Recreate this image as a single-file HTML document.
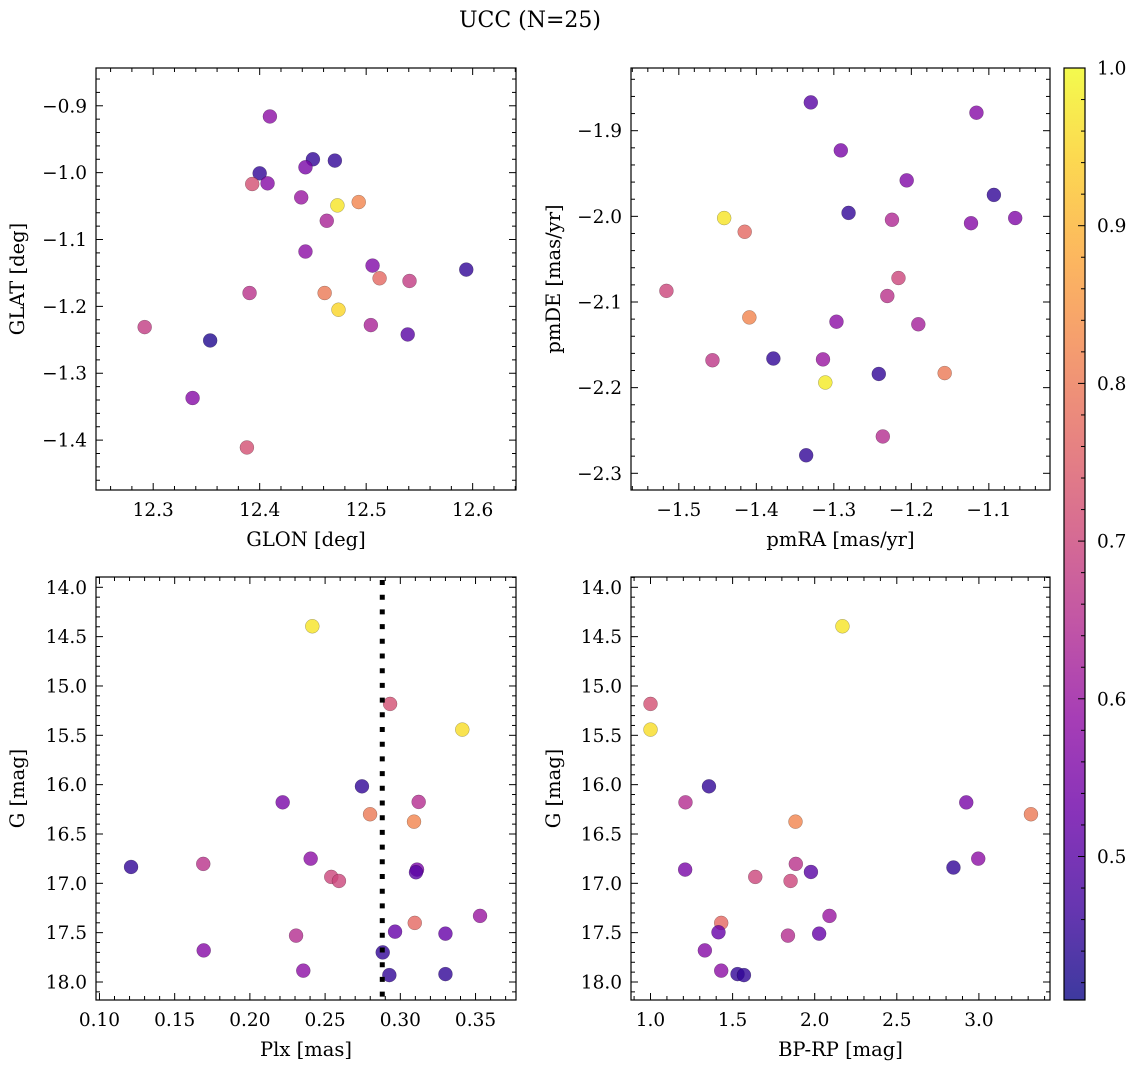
<!DOCTYPE html>
<html><head><meta charset="utf-8"><style>
html,body{margin:0;padding:0;background:#fff;}
svg{display:block;font-family:"DejaVu Serif","Liberation Serif",serif;}
</style></head><body>
<svg id="fig" width="1136" height="1067" viewBox="0 0 1136 1067" xmlns="http://www.w3.org/2000/svg">
<defs>
<linearGradient id="plasma" x1="0" y1="1" x2="0" y2="0"></linearGradient>
</defs>
<text x="530" y="27" font-size="22" text-anchor="middle">UCC (N=25)</text>
</svg>
<script>
// ---- Panel 1: GLON vs GLAT ----
const p1Glon = [12.4096,12.450,12.4706,12.443,12.400,12.393,12.4074,12.439,12.473,12.493,12.463,12.443,12.506,12.5126,12.5407,12.594,12.3905,12.461,12.474,12.292,12.3535,12.5044,12.539,12.337,12.388];
const p1Glat = [-0.916,-0.980,-0.982,-0.992,-1.001,-1.017,-1.016,-1.037,-1.049,-1.044,-1.072,-1.118,-1.139,-1.158,-1.162,-1.145,-1.180,-1.180,-1.205,-1.231,-1.251,-1.228,-1.242,-1.337,-1.411];
const p1Prob = [0.58,0.45,0.45,0.55,0.45,0.72,0.57,0.60,0.97,0.82,0.63,0.58,0.56,0.77,0.68,0.45,0.66,0.80,0.95,0.68,0.43,0.63,0.50,0.57,0.72];
// ---- Panel 2: pmRA vs pmDE ----
const p2PmRA = [-1.3297,-1.116,-1.291,-1.206,-1.0935,-1.281,-1.225,-1.123,-1.066,-1.4415,-1.415,-1.516,-1.2166,-1.231,-1.409,-1.2966,-1.191,-1.4566,-1.378,-1.314,-1.242,-1.157,-1.311,-1.2368,-1.3357];
const p2PmDE = [-1.867,-1.879,-1.923,-1.958,-1.975,-1.996,-2.004,-2.008,-2.002,-2.002,-2.018,-2.087,-2.072,-2.093,-2.118,-2.123,-2.126,-2.168,-2.166,-2.167,-2.184,-2.183,-2.194,-2.257,-2.279];
const p2Prob = [0.50,0.57,0.55,0.56,0.45,0.45,0.64,0.57,0.56,0.97,0.77,0.70,0.70,0.66,0.82,0.58,0.62,0.67,0.45,0.60,0.45,0.80,0.98,0.65,0.45];
// ---- Panel 3: Plx vs G ----
const p3Plx = [0.2415,0.2932,0.3412,0.2745,0.2218,0.3122,0.2799,0.3091,0.121,0.169,0.2404,0.2541,0.2592,0.3111,0.3104,0.353,0.3096,0.2965,0.330,0.2307,0.1693,0.2883,0.2355,0.2927,0.330];
const p3G = [14.395,15.182,15.442,16.017,16.179,16.175,16.30,16.375,16.834,16.803,16.75,16.935,16.976,16.861,16.888,17.33,17.401,17.49,17.51,17.53,17.68,17.70,17.885,17.93,17.92];
const p3Prob = [0.97,0.72,0.96,0.45,0.55,0.65,0.80,0.82,0.45,0.66,0.58,0.70,0.70,0.55,0.50,0.60,0.77,0.52,0.52,0.65,0.57,0.45,0.58,0.45,0.45];
const plxLine = [0.288];
// ---- Panel 4: BP-RP vs G ----
const p4BpRp = [2.169,1.0,1.0,1.356,1.213,2.923,3.317,1.883,2.845,2.996,1.211,1.885,1.977,1.638,1.853,2.090,1.4306,1.414,2.027,1.837,1.331,1.4306,1.530,1.569];
const p4G = [14.395,15.182,15.442,16.017,16.179,16.18,16.30,16.375,16.84,16.75,16.861,16.803,16.885,16.935,16.976,17.33,17.401,17.496,17.51,17.53,17.68,17.885,17.92,17.93];
const p4Prob = [0.97,0.72,0.96,0.45,0.65,0.55,0.80,0.82,0.45,0.58,0.55,0.66,0.50,0.70,0.70,0.60,0.77,0.52,0.52,0.65,0.57,0.58,0.45,0.45];
// ---- Tick labels ----
const p1XTicks = [12.3,12.4,12.5,12.6];
const p1YTicks = [-0.9,-1.0,-1.1,-1.2,-1.3,-1.4];
const p2XTicks = [-1.5,-1.4,-1.3,-1.2,-1.1];
const p2YTicks = [-1.9,-2.0,-2.1,-2.2,-2.3];
const p3XTicks = [0.10,0.15,0.20,0.25,0.30,0.35];
const gTicks = [14.0,14.5,15.0,15.5,16.0,16.5,17.0,17.5,18.0];
const p4XTicks = [1.0,1.5,2.0,2.5,3.0];
const cbTicks = [0.5,0.6,0.7,0.8,0.9,1.0];
const cbMin = 0.409, cbMax = 1.0;

const NS = "http://www.w3.org/2000/svg";
const svg = document.getElementById('fig');
const TICK_FS = 18.5, LABEL_FS = 19.5;
function mk(tag, attrs, parent){const e=document.createElementNS(NS,tag);for(const k in attrs)e.setAttribute(k,attrs[k]);(parent||svg).appendChild(e);return e;}
const plasmaStops=[[13,8,135],[65,4,157],[106,0,168],[143,13,164],[177,42,144],[204,71,120],[225,100,98],[242,132,75],[252,166,54],[252,206,37],[240,249,33]];
function plasma(t){t=Math.max(0,Math.min(1,t));const f=t*10;const i=Math.min(9,Math.floor(f));const r=f-i;const a=plasmaStops[i],b=plasmaStops[i+1];return 'rgb('+a.map((v,k)=>Math.round(v+(b[k]-v)*r)).join(',')+')';}
function probColor(p){return plasma((p-cbMin)/(cbMax-cbMin));}
function fmt(v,d){return (v<0?'\u2212':'')+Math.abs(v).toFixed(d);}

function panel(cfg){
  const {name,L,T,R,B,xmin,xmax,ymin,ymax,xTicks,yTicks,xMinor,yMinor,xd,yd,xlabel,ylabel,ylabelX,xs,ys,ps,yInvert}=cfg;
  const sx=v=>L+(v-xmin)/(xmax-xmin)*(R-L);
  const sy=yInvert? (v=>T+(v-ymin)/(ymax-ymin)*(B-T)) : (v=>B-(v-ymin)/(ymax-ymin)*(B-T));
  const g=mk('g',{});
  
  
  const clipId=name+'-clip';
  const cp=mk('clipPath',{id:clipId},g);mk('rect',{x:L,y:T,width:R-L,height:B-T},cp);
  const pts=mk('g',{'clip-path':'url(#'+clipId+')'},g);
  for(let i=0;i<xs.length;i++){
    const c=mk('circle',{cx:sx(xs[i]),cy:sy(ys[i]),r:7,fill:probColor(ps[i]),'fill-opacity':0.8,stroke:'rgba(0,0,0,0.35)','stroke-width':0.5},pts);
    
    
  }
  cfg.sx=sx;cfg.sy=sy;cfg.g=g;cfg.pts=pts;
  const tk=mk('g',{stroke:'#000','stroke-width':1},g);
  const lo=Math.min(xmin,xmax),hi=Math.max(xmin,xmax);
  for(let v=Math.ceil(lo/xMinor-1e-6)*xMinor;v<=hi+1e-9;v+=xMinor){
    const x=sx(v);const major=xTicks.some(t=>Math.abs(t-v)<xMinor/10);const len=major?7:4;
    mk('line',{x1:x,y1:B,x2:x,y2:B-len},tk);mk('line',{x1:x,y1:T,x2:x,y2:T+len},tk);
  }
  const ylo=Math.min(ymin,ymax),yhi=Math.max(ymin,ymax);
  for(let v=Math.ceil(ylo/yMinor-1e-6)*yMinor;v<=yhi+1e-9;v+=yMinor){
    const y=sy(v);const major=yTicks.some(t=>Math.abs(t-v)<yMinor/10);const len=major?7:4;
    mk('line',{x1:L,y1:y,x2:L+len,y2:y},tk);mk('line',{x1:R,y1:y,x2:R-len,y2:y},tk);
  }
  mk('rect',{x:L,y:T,width:R-L,height:B-T,fill:'none',stroke:'#000','stroke-width':1.2},g);
  xTicks.forEach(v=>{const t=mk('text',{x:sx(v),y:B+26,'font-size':TICK_FS,'text-anchor':'middle'},g);t.textContent=fmt(v,xd);
    
    });
  yTicks.forEach(v=>{const t=mk('text',{x:L-9,y:sy(v)+6.5,'font-size':TICK_FS,'text-anchor':'end'},g);t.textContent=fmt(v,yd);
    
    });
  const xl=mk('text',{x:(L+R)/2,y:B+56,'font-size':LABEL_FS,'text-anchor':'middle'},g);xl.textContent=xlabel;
  
  
  const yl=mk('text',{x:ylabelX,y:(T+B)/2,'font-size':LABEL_FS,'text-anchor':'middle',transform:'rotate(-90 '+ylabelX+' '+((T+B)/2)+')'},g);yl.textContent=ylabel;
  
  
  return cfg;
}

panel({name:'glon-glat-panel',L:96,T:68,R:516,B:490,xmin:12.2463,xmax:12.6407,ymin:-1.4746,ymax:-0.8435,xTicks:p1XTicks,yTicks:p1YTicks,xMinor:0.02,yMinor:0.02,xd:1,yd:1,xlabel:'GLON [deg]',ylabel:'GLAT [deg]',ylabelX:24,xs:p1Glon,ys:p1Glat,ps:p1Prob});
panel({name:'pm-panel',L:631,T:68,R:1050,B:490,xmin:-1.5617,xmax:-1.0211,ymin:-2.3195,ymax:-1.8268,xTicks:p2XTicks,yTicks:p2YTicks,xMinor:0.02,yMinor:0.02,xd:1,yd:1,xlabel:'pmRA [mas/yr]',ylabel:'pmDE [mas/yr]',ylabelX:560,xs:p2PmRA,ys:p2PmDE,ps:p2Prob});
const p3=panel({name:'plx-g-panel',L:96,T:577,R:516,B:1000,xmin:0.0977,xmax:0.3769,ymin:13.8956,ymax:18.1824,xTicks:p3XTicks,yTicks:gTicks,xMinor:0.01,yMinor:0.1,xd:2,yd:1,xlabel:'Plx [mas]',ylabel:'G [mag]',ylabelX:24,xs:p3Plx,ys:p3G,ps:p3Prob,yInvert:true});
panel({name:'cmd-panel',L:631,T:577,R:1050,B:1000,xmin:0.8812,xmax:3.4330,ymin:13.8956,ymax:18.1824,xTicks:p4XTicks,yTicks:gTicks,xMinor:0.1,yMinor:0.1,xd:1,yd:1,xlabel:'BP-RP [mag]',ylabel:'G [mag]',ylabelX:560,xs:p4BpRp,ys:p4G,ps:p4Prob,yInvert:true});

plxLine.forEach(v=>{const x=p3.sx(v);
  const ln=mk('line',{x1:x,y1:580,x2:x,y2:1000,stroke:'#000','stroke-width':5,'stroke-dasharray':'5 9.7'},p3.pts);
  
  
});

const grad=document.getElementById('plasma');
for(let i=0;i<=10;i++){const t=i/10;const p=cbMin+t*(cbMax-cbMin);mk('stop',{offset:t,'stop-color':probColor(p),'stop-opacity':0.8},grad);}
const cb=mk('g',{});


const CL=1064,CR=1085,CT=68,CB=1000;
mk('rect',{x:CL,y:CT,width:CR-CL,height:CB-CT,fill:'url(#plasma)'},cb);
const csy=v=>CB-(v-cbMin)/(cbMax-cbMin)*(CB-CT);
for(let v=0.42;v<=1.0001;v+=0.02){const y=csy(v);const major=cbTicks.some(t=>Math.abs(t-v)<0.002);
  mk('line',{x1:CR,y1:y,x2:CR-(major?7:4),y2:y,stroke:'#000','stroke-width':1},cb);}
mk('rect',{x:CL,y:CT,width:CR-CL,height:CB-CT,fill:'none',stroke:'#000','stroke-width':1.2},cb);
cbTicks.forEach(v=>{const t=mk('text',{x:CR+12,y:csy(v)+6.5,'font-size':TICK_FS},cb);t.textContent=v.toFixed(1);
  
  });
</script>
</body></html>
